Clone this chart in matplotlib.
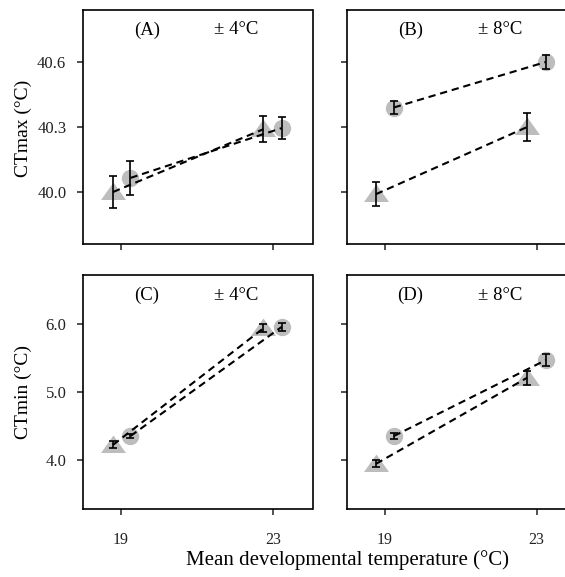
import numpy as np
import matplotlib
matplotlib.use('Agg')
import matplotlib.pyplot as plt
from matplotlib.path import Path

plt.rcParams['font.family'] = ['Liberation Serif', 'DejaVu Serif']

# mean developmental temperature (realised) for each group
x_tri = {'A': [18.79, 22.75], 'B': [18.77, 22.75], 'C': [18.79, 22.75], 'D': [18.77, 22.75]}
x_circ = {'A': [19.25, 23.23], 'B': [19.24, 23.24], 'C': [19.25, 23.23], 'D': [19.24, 23.24]}

y_tri = {'A': [40.00, 40.29], 'B': [39.99, 40.30], 'C': [4.22, 5.94], 'D': [3.94, 5.21]}
e_tri = {'A': [0.075, 0.06], 'B': [0.055, 0.066], 'C': [0.05, 0.06], 'D': [0.05, 0.10]}
y_circ = {'A': [40.065, 40.295], 'B': [40.39, 40.60], 'C': [4.35, 5.96], 'D': [4.35, 5.47]}
e_circ = {'A': [0.08, 0.05], 'B': [0.03, 0.033], 'C': [0.03, 0.06], 'D': [0.04, 0.09]}

panel_labels = ['A', 'B', 'C', 'D']
fluct_labels = {'A': '\u00b1 4\u00b0C', 'B': '\u00b1 8\u00b0C', 'C': '\u00b1 4\u00b0C', 'D': '\u00b1 8\u00b0C'}
yticks_top = [40.0, 40.3, 40.6]
yticks_bot = [4.0, 5.0, 6.0]
xticks = [19, 23]

W, H = 565, 577
fig = plt.figure(figsize=(W / 100, H / 100), dpi=100)

tri = Path([(-1, -0.6), (1, -0.6), (0, 0.8), (-1, -0.6)],
           [Path.MOVETO, Path.LINETO, Path.LINETO, Path.CLOSEPOLY])
grey = '#bdbdbd'

# axes boxes in pixels: left, top
boxes = {'A': (83, 10), 'B': (346.7, 10), 'C': (83, 275.3), 'D': (346.7, 275.3)}
aw, ah = 229.5, 234

for p in panel_labels:
    l, t = boxes[p]
    ax = fig.add_axes([l / W, 1 - (t + ah) / H, aw / W, ah / H])
    ax.plot(x_tri[p], y_tri[p], ls='none', marker=tri, ms=18, color=grey, mec='none', zorder=1)
    ax.plot(x_circ[p], y_circ[p], ls='none', marker='o', ms=12.5, color=grey, mec='none', zorder=1)
    for xs, ys, es in [(x_tri[p], y_tri[p], e_tri[p]), (x_circ[p], y_circ[p], e_circ[p])]:
        ax.plot(xs, ys, color='black', lw=1.5, dashes=(3.5, 2.3), zorder=3)
        ax.errorbar(xs, ys, yerr=es, fmt='none', ecolor='black', elinewidth=1.2,
                    capsize=2.6, capthick=1.2, zorder=4)

    ax.set_xlim(18.0, 24.04)
    top = p in ('A', 'B')
    if top:
        ax.set_ylim(39.76, 40.84)
        ax.set_yticks(yticks_top)
        ax.set_yticklabels(['%.1f' % v for v in yticks_top] if p == 'A' else [])
    else:
        ax.set_ylim(3.27, 6.72)
        ax.set_yticks(yticks_bot)
        ax.set_yticklabels(['%.1f' % v for v in yticks_bot] if p == 'C' else [])
    ax.set_xticks(xticks)
    ax.set_xticklabels([str(v) for v in xticks] if not top else [])
    ax.tick_params(direction='out', length=4.5, width=1.1, colors='#222222')
    ax.tick_params(axis='x', pad=12, labelsize=11.5)
    ax.tick_params(axis='y', pad=7.5, labelsize=12)
    for s in ax.spines.values():
        s.set_linewidth(1.2)
    ax.text(19.68, 0.915, '(%s)' % p, transform=ax.get_xaxis_transform(),
            ha='center', va='center', fontsize=13.5)
    ax.text(22.04, 0.915, fluct_labels[p], transform=ax.get_xaxis_transform(),
            ha='center', va='center', fontsize=13.5)

fig.text(23 / W, 1 - 128 / H, 'CTmax (\u00b0C)', rotation=90, ha='center', va='center', fontsize=14)
fig.text(23 / W, 1 - 392 / H, 'CTmin (\u00b0C)', rotation=90, ha='center', va='center', fontsize=14)
fig.text(348 / W, 1 - 560 / H, 'Mean developmental temperature (\u00b0C)', ha='center', va='center', fontsize=15)

fig.savefig('out.png', dpi=100)
